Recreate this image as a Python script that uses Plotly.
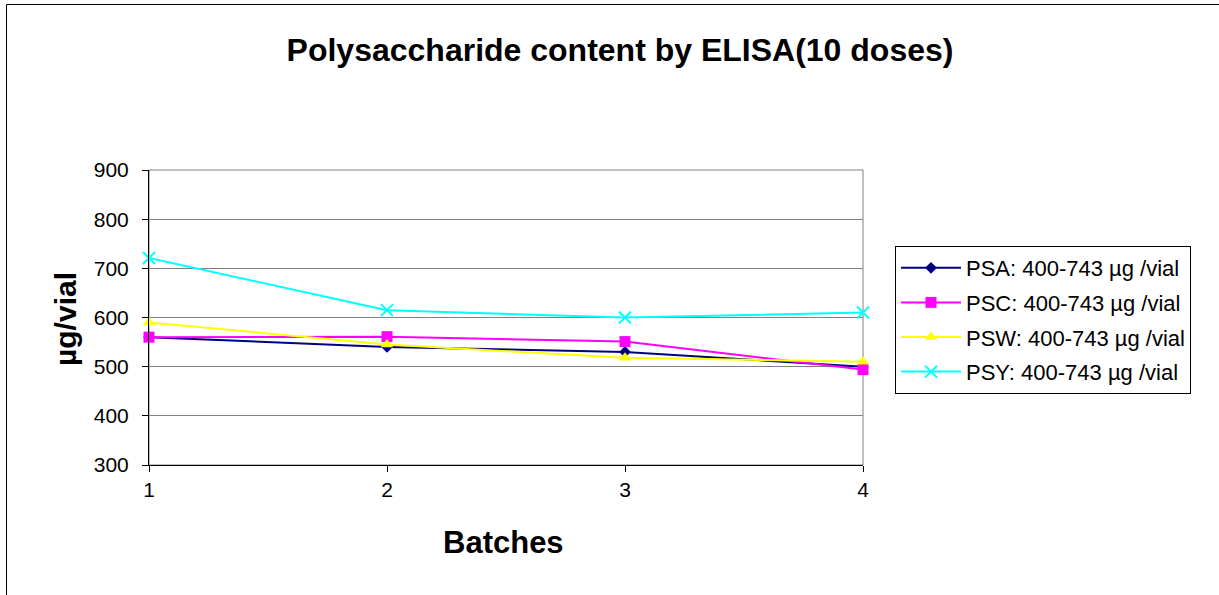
import plotly.graph_objects as go

batches = [1, 2, 3, 4]
psa = [560, 540, 530, 500]
psc = [560, 561, 551, 494]
psw = [590, 545, 518, 510]
psy = [721, 615, 600, 610]

names = ["PSA: 400-743 µg /vial", "PSC: 400-743 µg /vial",
         "PSW: 400-743 µg /vial", "PSY: 400-743 µg /vial"]
series = [psa, psc, psw, psy]
colors = ["#000080", "#FF00FF", "#FFFF00", "#00FFFF"]
symbols = ["diamond", "square", "triangle-up", "x-thin"]
sizes = [9, 11, 11, 12]

FONT = "Arial, Liberation Sans, sans-serif"

W, H = 1219, 595
L, R, T, B = 149, 863, 170, 465
pw, ph = R - L, B - T

fig = go.Figure()
for i, (nm, vals) in enumerate(zip(names, series)):
    marker = dict(symbol=symbols[i], size=sizes[i], color=colors[i])
    if symbols[i] == "x-thin":
        marker["line"] = dict(color=colors[i], width=2)
    fig.add_trace(go.Scatter(
        x=batches, y=vals, mode="lines+markers", name=nm,
        legendgroup=nm,
        line=dict(color=colors[i], width=2),
        marker=marker, cliponaxis=False,
    ))

def px_x(p):
    return (p - L) / pw

def px_y(p):
    return (B - p) / ph

fig.update_layout(
    width=W, height=H,
    margin=dict(l=L, r=W - R, t=T, b=H - B, pad=0),
    paper_bgcolor="white", plot_bgcolor="white",
    font=dict(family=FONT, color="black"),
    title=dict(text="<b>Polysaccharide content by ELISA(10 doses)</b>",
               font=dict(size=32, family=FONT, color="black"),
               x=620 / W, xanchor="center", xref="container",
               y=1 - 50 / H, yanchor="middle", yref="container"),
    xaxis=dict(range=[1, 4], tickvals=batches, ticktext=["1", "2", "3", "4"],
               showgrid=False, zeroline=False, showline=True, linecolor="#000000",
               linewidth=1, ticks="outside", ticklen=6, tickcolor="#000000",
               tickfont=dict(size=21, family=FONT, color="black")),
    yaxis=dict(range=[300, 900], dtick=100, tick0=300,
               showgrid=True, gridcolor="#808080", gridwidth=1, zeroline=False,
               showline=True, linecolor="#000000", linewidth=1,
               ticks="outside", ticklen=6, tickcolor="#000000",
               ticklabelstandoff=9,
               tickfont=dict(size=21, family=FONT, color="black")),
    legend=dict(x=px_x(895), y=px_y(246), xanchor="left", yanchor="top",
                bordercolor="#000000", borderwidth=1, bgcolor="white",
                font=dict(size=22, family=FONT, color="black"),
                traceorder="grouped", tracegroupgap=3, itemwidth=60),
    showlegend=True,
    shapes=[
        dict(type="rect", xref="paper", yref="paper", x0=0, x1=1, y0=0, y1=1,
             line=dict(color="#808080", width=1), layer="below"),
        dict(type="line", xref="paper", yref="paper",
             x0=px_x(6.5), x1=px_x(6.5), y0=px_y(4.5), y1=px_y(700),
             line=dict(color="#000000", width=1)),
        dict(type="line", xref="paper", yref="paper",
             x0=px_x(6.5), x1=px_x(1300), y0=px_y(4.5), y1=px_y(4.5),
             line=dict(color="#000000", width=1)),
    ],
    annotations=[
        dict(text="<b>Batches</b>", xref="paper", yref="paper",
             x=px_x(503), y=px_y(542), xanchor="center", yanchor="middle",
             showarrow=False, font=dict(size=31, family=FONT, color="black")),
        dict(text="<b>µg/vial</b>", xref="paper", yref="paper",
             x=px_x(65), y=px_y(319), xanchor="center", yanchor="middle",
             textangle=-90, showarrow=False,
             font=dict(size=30, family=FONT, color="black")),
    ],
)

fig.write_html("out.html")
